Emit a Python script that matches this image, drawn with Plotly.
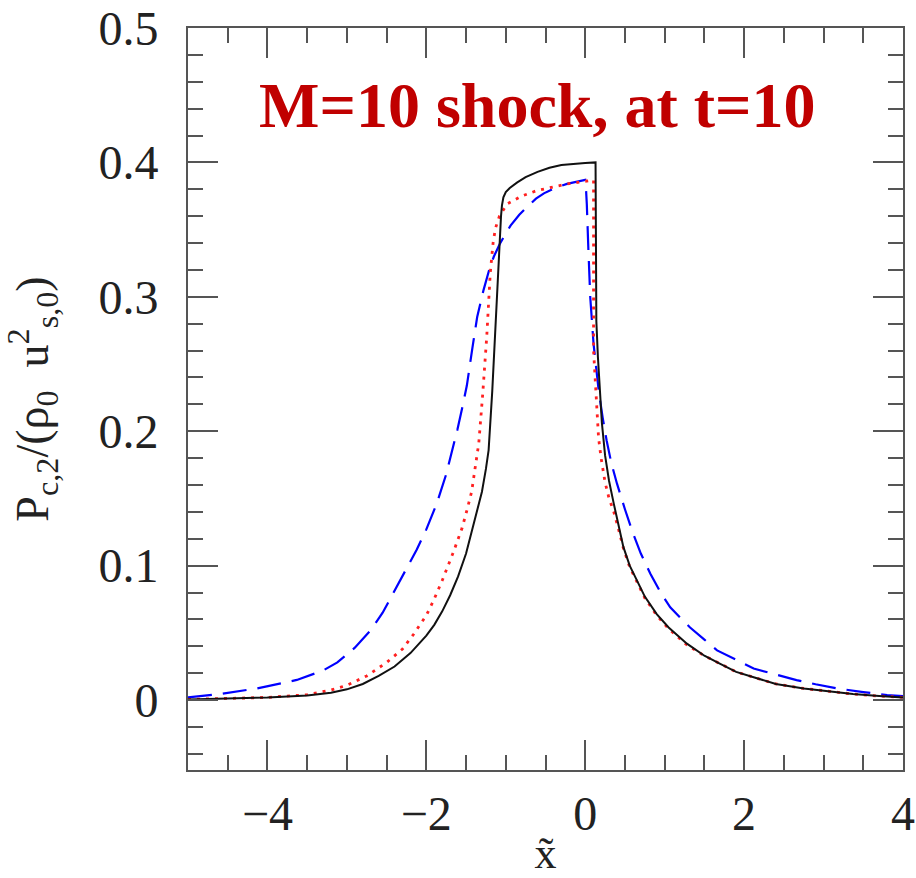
import plotly.graph_objects as go

# Black solid curve
x_black = [-5.0, -4.5, -4.0, -3.5, -3.2, -3.0, -2.8, -2.6, -2.4, -2.2, -2.0, -1.9, -1.8, -1.7, -1.6,
           -1.5, -1.45, -1.4, -1.35, -1.30, -1.25, -1.216, -1.17, -1.13, -1.09, -1.06, -1.048, -1.03,
           -1.0, -0.95, -0.86, -0.75, -0.6, -0.45, -0.3, -0.15, 0.0, 0.13,
           0.135, 0.14, 0.16, 0.18, 0.21, 0.25, 0.30, 0.36, 0.42, 0.48, 0.56, 0.65, 0.75, 0.90, 1.05,
           1.28, 1.5, 1.70, 1.9, 2.12, 2.4, 2.75, 3.0, 3.37, 3.7, 4.0]
y_black = [0.0005, 0.001, 0.002, 0.0035, 0.0055, 0.008, 0.012, 0.018, 0.025, 0.035, 0.048, 0.056, 0.066,
           0.078, 0.092, 0.109, 0.120, 0.132, 0.143, 0.155, 0.172, 0.186, 0.230, 0.280, 0.330, 0.360,
           0.368, 0.374, 0.378, 0.381, 0.385, 0.389, 0.393, 0.396, 0.398, 0.399, 0.3995, 0.400,
           0.290, 0.282, 0.255, 0.232, 0.206, 0.182, 0.163, 0.146, 0.129, 0.114, 0.100, 0.089, 0.077,
           0.064, 0.054, 0.042, 0.033, 0.027, 0.021, 0.017, 0.012, 0.0087, 0.0068, 0.0045, 0.003, 0.002]

# Red dotted curve
x_red = [-5.0, -4.5, -4.0, -3.5, -3.2, -3.0, -2.75, -2.5, -2.3, -2.16, -2.0, -1.91, -1.8, -1.66, -1.55,
         -1.49, -1.43, -1.38, -1.34, -1.29, -1.24, -1.195, -1.16, -1.13, -1.08, -0.985, -0.8, -0.61,
         -0.4, -0.23, 0.0, 0.105,
         0.105, 0.126, 0.147, 0.168, 0.2, 0.25, 0.30, 0.36, 0.42, 0.48, 0.56, 0.65, 0.75, 0.90, 1.05,
         1.28, 1.5, 1.70, 1.9, 2.12, 2.4, 2.75, 3.0, 3.37, 3.7, 4.0]
y_red = [0.0005, 0.001, 0.002, 0.004, 0.0075, 0.011, 0.018, 0.028, 0.038, 0.049, 0.063, 0.074, 0.089,
         0.110, 0.128, 0.141, 0.155, 0.175, 0.191, 0.228, 0.270, 0.318, 0.340, 0.351, 0.360, 0.369,
         0.375, 0.379, 0.382, 0.384, 0.386, 0.387,
         0.260, 0.236, 0.216, 0.195, 0.180, 0.162, 0.150, 0.140, 0.127, 0.113, 0.099, 0.088, 0.076,
         0.063, 0.053, 0.041, 0.033, 0.027, 0.021, 0.017, 0.012, 0.0087, 0.0068, 0.0045, 0.003, 0.002]

# Blue dashed curve
x_blue = [-5.0, -4.6, -4.13, -3.63, -3.3, -3.12, -2.9, -2.70, -2.55, -2.41, -2.25, -2.12, -2.0, -1.87,
          -1.75, -1.66, -1.61, -1.55, -1.49, -1.42, -1.36, -1.28, -1.2, -1.15, -1.07, -0.94, -0.83,
          -0.73, -0.62, -0.52, -0.38, -0.23, -0.1, 0.0,
          0.01, 0.02, 0.04, 0.063, 0.105, 0.17, 0.22, 0.27, 0.33, 0.40, 0.5, 0.59, 0.7, 0.82, 0.95,
          1.07, 1.2, 1.32, 1.5, 1.66, 1.9, 2.12, 2.4, 2.66, 2.9, 3.17, 3.5, 3.80, 4.0]
y_blue = [0.002, 0.0045, 0.0087, 0.015, 0.022, 0.028, 0.039, 0.052, 0.065, 0.080, 0.097, 0.112, 0.127,
          0.146, 0.168, 0.188, 0.201, 0.217, 0.234, 0.262, 0.285, 0.305, 0.322, 0.330, 0.340, 0.353,
          0.361, 0.367, 0.373, 0.377, 0.381, 0.384, 0.386, 0.387,
          0.380, 0.369, 0.335, 0.300, 0.265, 0.230, 0.210, 0.193, 0.176, 0.161, 0.142, 0.126, 0.109,
          0.094, 0.080, 0.069, 0.061, 0.054, 0.045, 0.037, 0.030, 0.0235, 0.019, 0.0149, 0.0118,
          0.0087, 0.006, 0.0037, 0.003]

x_ticks = [-4, -2, 0, 2, 4]
y_ticks = [0, 0.1, 0.2, 0.3, 0.4, 0.5]

fig = go.Figure()
fig.add_trace(go.Scatter(x=x_blue, y=y_blue, mode="lines",
                         line=dict(color="#0000FF", width=2.2, dash="24px,11px"), showlegend=False))
fig.add_trace(go.Scatter(x=x_red, y=y_red, mode="lines",
                         line=dict(color="#FF2020", width=2.8, dash="3px,6px"), showlegend=False))
fig.add_trace(go.Scatter(x=x_black, y=y_black, mode="lines",
                         line=dict(color="#111111", width=2), showlegend=False))

tickfont = dict(family="Liberation Serif", size=48, color="#222222")

fig.update_layout(
    width=916, height=878,
    margin=dict(l=188, r=13, t=28, b=108),
    paper_bgcolor="white", plot_bgcolor="white",
    font=dict(family="Liberation Serif", color="#222222"),
    xaxis=dict(range=[-5, 4], tickvals=x_ticks, ticks="inside", ticklen=30, tickwidth=2,
               tickcolor="#555555", showline=True, linecolor="#555555", linewidth=2,
               mirror="ticks", showgrid=False, zeroline=False, tickfont=tickfont, automargin=False,
               minor=dict(dtick=0.5, ticks="inside", ticklen=15, tickwidth=2, tickcolor="#555555", showgrid=False),
               title=dict(text="x̃", font=dict(family="Liberation Serif", size=44, color="#222222"), standoff=0)),
    yaxis=dict(range=[-0.052, 0.5], tickvals=y_ticks, ticks="inside", ticklen=30, tickwidth=2,
               tickcolor="#555555", showline=True, linecolor="#555555", linewidth=2,
               mirror="ticks", showgrid=False, zeroline=False, tickfont=tickfont, automargin=False,
               ticklabelstandoff=18,
               minor=dict(dtick=0.02, ticks="inside", ticklen=15, tickwidth=2, tickcolor="#555555", showgrid=False),
               title=dict(text="P<sub>c,2</sub>/(ρ<sub>0</sub>  u<sup>2</sup><sub>s,0</sub>)",
                          font=dict(family="Liberation Serif", size=46, color="#222222"), standoff=40)),
)

fig.add_annotation(x=-0.61, y=0.442, xref="x", yref="y", showarrow=False,
                   text="<b>M=10 shock, at t=10</b>",
                   font=dict(family="Liberation Serif", size=64, color="#C00000"),
                   xanchor="center", yanchor="middle")

fig.write_html("out.html", config={"displayModeBar": False},
               post_script="document.body.style.margin='0';document.body.style.padding='0';")
